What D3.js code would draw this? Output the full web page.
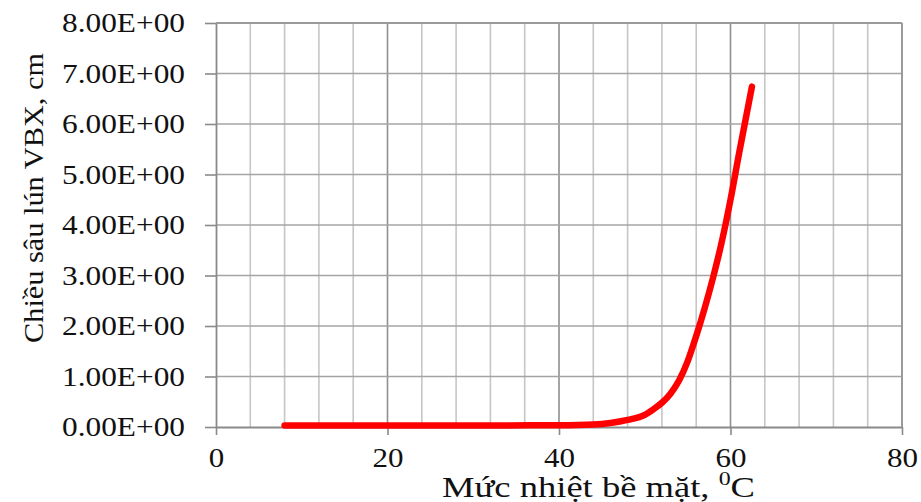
<!DOCTYPE html>
<html>
<head>
<meta charset="utf-8">
<script src="https://cdn.jsdelivr.net/npm/d3@7/dist/d3.min.js"></script>
<style>
  html, body { margin: 0; padding: 0; background: #fff; }
  svg { display: block; }
  text { font-family: "Liberation Serif", "Times New Roman", serif; fill: #111; }
</style>
</head>
<body>
<svg id="chart" width="921" height="502"></svg>
<script>
// ---- data ----
const temperature = [8, 20, 30, 40, 44, 46, 48, 50, 51, 52, 53, 54, 55, 56, 57, 58, 59, 60, 61, 62, 62.5];
const depth =       [0.03, 0.03, 0.03, 0.035, 0.05, 0.08, 0.14, 0.24, 0.35, 0.48, 0.66, 0.92, 1.3, 1.8, 2.36, 2.98, 3.68, 4.5, 5.42, 6.3, 6.74];
const xTickValues = [0, 20, 40, 60, 80];
const xTickLabels = ["0", "20", "40", "60", "80"];
const yTickValues = [0, 1, 2, 3, 4, 5, 6, 7, 8];
const yTickLabels = ["0.00E+00","1.00E+00","2.00E+00","3.00E+00","4.00E+00","5.00E+00","6.00E+00","7.00E+00","8.00E+00"];
const xMinorGrid = d3.range(0, 81, 4);
const xTitle = "Mức nhiệt bề mặt, ";
const xTitleSup = "0";
const xTitleEnd = "C";
const yTitle = "Chiều sâu lún VBX, cm";

// ---- layout ----
const svg = d3.select("#chart");
const L = 216, R = 902, T = 23, B = 427;
const x = d3.scaleLinear().domain([0, 80]).range([L, R]);
const y = d3.scaleLinear().domain([0, 8]).range([B, T]);

// minor vertical grid
svg.append("g").selectAll("line").data(xMinorGrid.filter(v => v % 20 !== 0)).join("line")
  .attr("x1", d => x(d)).attr("x2", d => x(d)).attr("y1", T).attr("y2", B)
  .attr("stroke", "#c6c6c6").attr("stroke-width", 1.6);
// major vertical grid
svg.append("g").selectAll("line").data(xTickValues.filter(v => v > 0)).join("line")
  .attr("x1", d => x(d)).attr("x2", d => x(d)).attr("y1", T).attr("y2", B)
  .attr("stroke", "#8f8f8f").attr("stroke-width", 1.6);
// horizontal grid
svg.append("g").selectAll("line").data(yTickValues.filter(v => v > 0)).join("line")
  .attr("x1", L).attr("x2", R).attr("y1", d => y(d)).attr("y2", d => y(d))
  .attr("stroke", "#a4a4a4").attr("stroke-width", 1.6);

// axes
const xAxis = d3.axisBottom(x).tickValues(xTickValues)
  .tickFormat((d, i) => xTickLabels[i]).tickSize(8).tickSizeOuter(0);
const gx = svg.append("g").attr("transform", `translate(0,${B})`).call(xAxis);
gx.select(".domain").attr("stroke", "#8a8a8a").attr("stroke-width", 1.8);
gx.selectAll(".tick line").attr("stroke", "#8a8a8a").attr("stroke-width", 1.6);
gx.selectAll(".tick text").attr("font-size", 27).attr("y", 0).attr("dy", 40).attr("x", 0)
  .style("font-family", '"Liberation Serif", serif').attr("fill", "#111")
  .attr("textLength", (d, i) => xTickLabels[i].length * 15.5).attr("lengthAdjust", "spacingAndGlyphs");

const yAxis = d3.axisLeft(y).tickValues(yTickValues)
  .tickFormat((d, i) => yTickLabels[i]).tickSize(11).tickSizeOuter(0);
const gy = svg.append("g").attr("transform", `translate(${L},0)`).call(yAxis);
gy.select(".domain").attr("stroke", "#8a8a8a").attr("stroke-width", 1.8);
gy.selectAll(".tick line").attr("stroke", "#8a8a8a").attr("stroke-width", 1.6);
gy.selectAll(".tick text").attr("font-size", 27).attr("x", -31).attr("dy", "0.32em")
  .style("font-family", '"Liberation Serif", serif').attr("fill", "#111")
  .attr("textLength", 123).attr("lengthAdjust", "spacingAndGlyphs");

// top & right border
svg.append("line").attr("x1", L).attr("x2", R).attr("y1", T).attr("y2", T)
  .attr("stroke", "#9a9a9a").attr("stroke-width", 1.8);
svg.append("line").attr("x1", R).attr("x2", R).attr("y1", T).attr("y2", B)
  .attr("stroke", "#9a9a9a").attr("stroke-width", 1.8);

// curve
const line = d3.line().x((d, i) => x(temperature[i])).y(d => y(d)).curve(d3.curveMonotoneX);
svg.append("path").datum(depth).attr("d", line)
  .attr("fill", "none").attr("stroke", "#ff0000").attr("stroke-width", 6.5)
  .attr("stroke-linecap", "round").attr("stroke-linejoin", "round");

// titles
const xt = svg.append("text").attr("x", 442).attr("y", 497).attr("font-size", 29)
  .attr("textLength", 313).attr("lengthAdjust", "spacingAndGlyphs");
xt.append("tspan").text(xTitle);
xt.append("tspan").text(xTitleSup).attr("font-size", 19).attr("dy", -12);
xt.append("tspan").text(xTitleEnd).attr("dy", 12);

svg.append("text").attr("transform", "translate(43,198) rotate(-90)")
  .attr("text-anchor", "middle").attr("font-size", 28)
  .attr("textLength", 290).attr("lengthAdjust", "spacingAndGlyphs")
  .text(yTitle);
</script>
</body>
</html>
